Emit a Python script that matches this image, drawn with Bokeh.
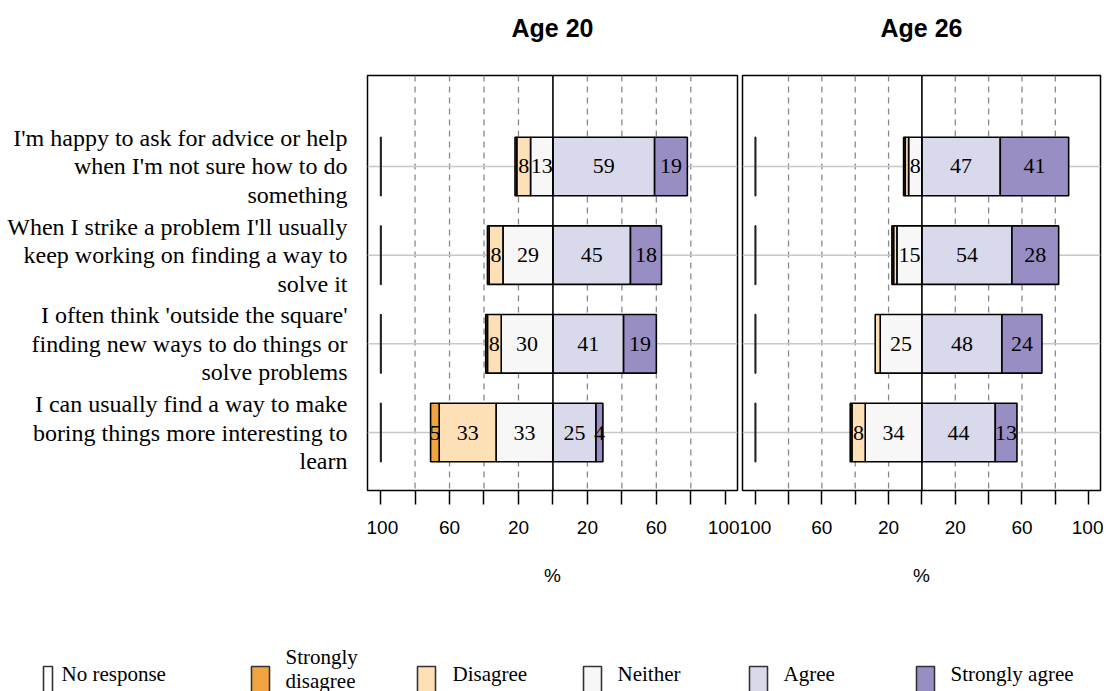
from bokeh.plotting import figure
from bokeh.layouts import row, column
from bokeh.models import Range1d, Span, FixedTicker, ColumnDataSource
from bokeh.embed import file_html
from bokeh.resources import INLINE
from bokeh.core.properties import value

# ---------------- data ----------------
items = [
    "I'm happy to ask for advice or help\nwhen I'm not sure how to do\nsomething",
    "When I strike a problem I'll usually\nkeep working on finding a way to\nsolve it",
    "I often think 'outside the square'\nfinding new ways to do things or\nsolve problems",
    "I can usually find a way to make\nboring things more interesting to\nlearn",
]
categories = ["No response", "Strongly disagree", "Disagree", "Neither", "Agree", "Strongly agree"]
legend_labels = ["No response", "Strongly\ndisagree", "Disagree", "Neither", "Agree", "Strongly agree"]
colors = ["#FFFFFF", "#F1A340", "#FEE0B6", "#F7F7F7", "#D8DAEB", "#998EC3"]
panel_titles = ["Age 20", "Age 26"]

age20_no_response = [0.3, 0.3, 0.3, 0.3]
age20_strongly_disagree = [1, 1, 1, 5]
age20_disagree = [8, 8, 8, 33]
age20_neither = [13, 29, 30, 33]
age20_agree = [59, 45, 41, 25]
age20_strongly_agree = [19, 18, 19, 4]

age26_no_response = [0.3, 0.3, 0.3, 0.3]
age26_strongly_disagree = [1, 1, 0, 1]
age26_disagree = [2, 2, 3, 8]
age26_neither = [8, 15, 25, 34]
age26_agree = [47, 54, 48, 44]
age26_strongly_agree = [41, 28, 24, 13]

tick_values = [-100, -80, -60, -40, -20, 0, 20, 40, 60, 80, 100]
tick_labels = ["100", "", "60", "", "20", "", "20", "", "60", "", "100"]
grid_values = [-80, -60, -40, -20, 20, 40, 60, 80]

# ---------------- layout constants ----------------
ROWS = [4, 3, 2, 1]
HALF = 0.33
STRIP_H = 73
FIG_H = 527
TOP = 2
BOTTOM = 110
X_RANGE = (-107.6, 107.1)
Y_RANGE = (0.346, 5.026)


def make_panel(nr, sd, d, n, a, sa, width, bl, br):
    p = figure(width=width, height=FIG_H, x_range=Range1d(*X_RANGE), y_range=Range1d(*Y_RANGE),
               output_backend="svg", toolbar_location=None, y_axis_location=None,
               min_border_left=bl, min_border_right=br, min_border_top=TOP, min_border_bottom=BOTTOM)
    p.grid.visible = False
    p.outline_line_color = "black"
    p.outline_line_width = 1.5
    p.background_fill_color = "white"

    # guide lines
    for gv in grid_values:
        p.add_layout(Span(location=gv, dimension="height", line_color="#8a8a8a",
                          line_width=1.3, line_dash="6 5", level="underlay"))
    for y in ROWS:
        p.add_layout(Span(location=y, dimension="width", line_color="#c8c8c8",
                          line_width=1.5, level="underlay"))

    left, right, bottom, top, fill, lab_x, lab_y, lab_t = [], [], [], [], [], [], [], []
    for i, y in enumerate(ROWS):
        # negative side: Neither, Disagree, Strongly disagree from the centre outward
        edge = 0
        for val, col in ((n[i], colors[3]), (d[i], colors[2]), (sd[i], colors[1])):
            if val > 0:
                left.append(edge - val); right.append(edge)
                bottom.append(y - HALF); top.append(y + HALF); fill.append(col)
                if val >= 4:
                    lab_x.append(edge - val / 2); lab_y.append(y); lab_t.append(str(val))
            edge -= val
        edge = 0
        for val, col in ((a[i], colors[4]), (sa[i], colors[5])):
            if val > 0:
                left.append(edge); right.append(edge + val)
                bottom.append(y - HALF); top.append(y + HALF); fill.append(col)
                if val >= 4:
                    lab_x.append(edge + val / 2); lab_y.append(y); lab_t.append(str(val))
            edge += val
    src = ColumnDataSource(dict(left=left, right=right, bottom=bottom, top=top, fill=fill))
    p.quad(left="left", right="right", bottom="bottom", top="top", fill_color="fill",
           line_color="black", line_width=1.6, source=src)

    # no response marks at the -100 end
    nr_src = ColumnDataSource(dict(left=[-100] * len(ROWS), right=[-100 + v for v in nr],
                                   bottom=[y - HALF for y in ROWS], top=[y + HALF for y in ROWS]))
    p.quad(left="left", right="right", bottom="bottom", top="top", fill_color=colors[0],
           line_color="#222222", line_width=1.6, source=nr_src)

    lab = ColumnDataSource(dict(x=lab_x, y=lab_y, t=lab_t))
    p.text(x="x", y="y", text="t", source=lab, text_align="center", text_baseline="middle",
           text_font=value("Liberation Serif"), text_font_size="22px", text_color="black")

    p.add_layout(Span(location=0, dimension="height", line_color="black", line_width=1.6))

    ax = p.xaxis[0]
    ax.ticker = FixedTicker(ticks=tick_values)
    ax.major_label_overrides = {v: l for v, l in zip(tick_values, tick_labels)}
    ax.axis_line_color = None
    ax.major_tick_in = 0
    ax.major_tick_out = 14
    ax.major_tick_line_width = 1.5
    ax.major_tick_line_color = "black"
    ax.minor_tick_line_color = None
    ax.major_label_standoff = 16
    ax.major_label_text_font = "Liberation Sans"
    ax.major_label_text_font_size = "19px"
    ax.major_label_text_color = "black"
    ax.axis_label = "%"
    ax.axis_label_text_font = "Liberation Sans"
    ax.axis_label_text_font_size = "19px"
    ax.axis_label_text_font_style = "normal"
    ax.axis_label_text_color = "black"
    ax.axis_label_standoff = 28
    return p


# panel titles strip (page-pixel coordinates)
strip = figure(width=1103, height=STRIP_H, x_range=Range1d(0, 1103), y_range=Range1d(STRIP_H, 0),
               output_backend="svg", toolbar_location=None, x_axis_location=None,
               y_axis_location=None, min_border=0)
strip.grid.visible = False
strip.outline_line_color = None
strip.text(x=[552, 921], y=[27, 27], text=panel_titles, text_align="center", text_baseline="middle",
           text_font=value("Liberation Sans"), text_font_size="25px", text_font_style="bold",
           text_color="black")

# item labels column
lab_fig = figure(width=366, height=FIG_H, x_range=Range1d(0, 366), y_range=Range1d(*Y_RANGE),
                 output_backend="svg", toolbar_location=None, x_axis_location=None,
                 y_axis_location=None, min_border_left=0, min_border_right=0,
                 min_border_top=TOP, min_border_bottom=BOTTOM)
lab_fig.grid.visible = False
lab_fig.outline_line_color = None
lab_fig.text(x=[347] * len(items), y=ROWS, text=items, text_align="right", text_baseline="middle",
             text_font=value("Liberation Serif"), text_font_size="24px", text_line_height=1.1,
             text_color="black")

p20 = make_panel(age20_no_response, age20_strongly_disagree, age20_disagree,
                 age20_neither, age20_agree, age20_strongly_agree, 373, 1, 2)
p26 = make_panel(age26_no_response, age26_strongly_disagree, age26_disagree,
                 age26_neither, age26_agree, age26_strongly_agree, 364, 3, 3)

# legend strip (page-pixel coordinates)
LEG_H = 91
leg = figure(width=1103, height=LEG_H, x_range=Range1d(0, 1103), y_range=Range1d(600 + LEG_H, 600),
             output_backend="svg", toolbar_location=None, x_axis_location=None,
             y_axis_location=None, min_border=0)
leg.grid.visible = False
leg.outline_line_color = None
box_left = [43, 251, 417, 583, 749, 916]
box_w = [9, 18, 18, 18, 18, 18]
leg.quad(left=box_left, right=[l + w for l, w in zip(box_left, box_w)], top=[666] * 6,
         bottom=[700] * 6, fill_color=colors, line_color="#333333", line_width=1.6)
text_x = [61, 285, 452, 617, 783, 950]
text_y = [673, 668, 673, 673, 673, 673]
leg.text(x=text_x, y=text_y, text=legend_labels, text_align="left", text_baseline="middle",
         text_font=value("Liberation Serif"), text_font_size="21px", text_line_height=1.0,
         text_color="black")

layout = column(strip, row(lab_fig, p20, p26), leg)
open("out.html", "w").write(file_html(layout, INLINE))
